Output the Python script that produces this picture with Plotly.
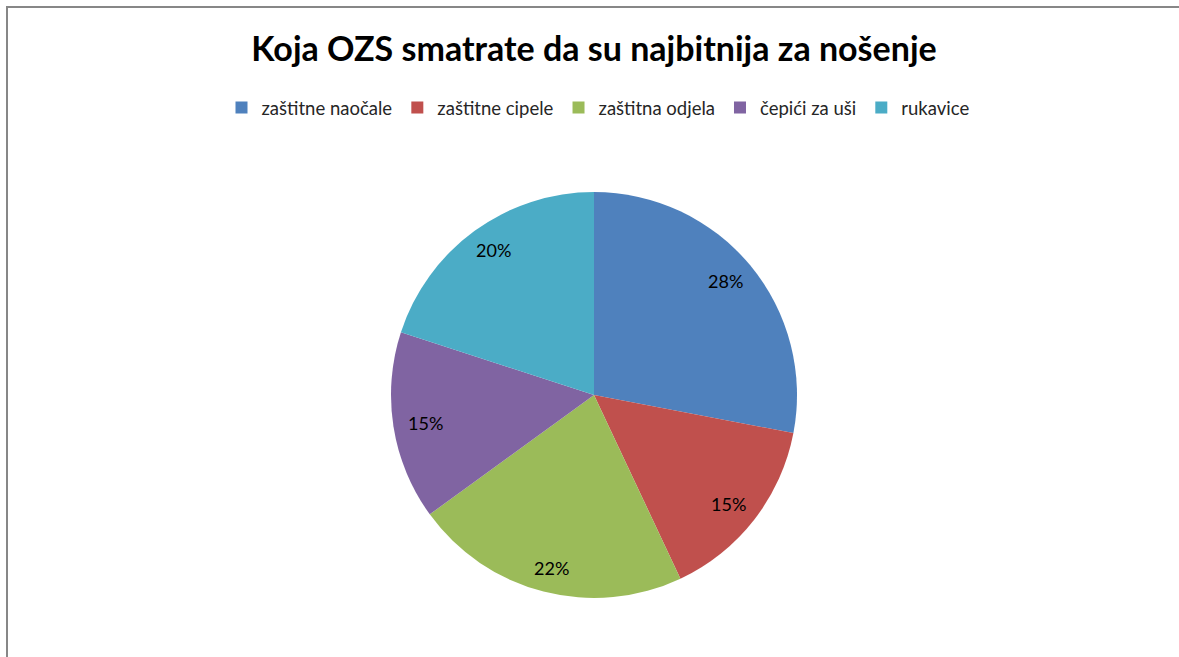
import math
import plotly.graph_objects as go

categories = ["zaštitne naočale", "zaštitne cipele", "zaštitna odjela", "čepići za uši", "rukavice"]
values = [28, 15, 22, 15, 20]
colors = ["#4F81BD", "#C0504D", "#9BBB59", "#8064A2", "#4BACC6"]
title_text = "Koja OZS smatrate da su najbitnija za nošenje"

W, H = 1179, 657
cx, cy, r = 594, 395, 203
label_kx, label_ky = 0.84, 0.88
FONT = "Lato, Open Sans, sans-serif"

fig = go.Figure(go.Pie(
    labels=categories,
    values=values,
    sort=False,
    direction="clockwise",
    rotation=0,
    marker=dict(colors=colors, line=dict(width=0)),
    textinfo="none",
    domain=dict(x=[(cx - r) / W, (cx + r) / W], y=[(H - cy - r) / H, (H - cy + r) / H]),
    hoverinfo="label+percent",
))

# percentage labels placed along each slice's mid-angle (derived from the values)
total = sum(values)
annotations = []
cum = 0
for v in values:
    theta = 2 * math.pi * (cum + v / 2) / total
    cum += v
    px = cx + label_kx * r * math.sin(theta)
    py = cy - label_ky * r * math.cos(theta)
    annotations.append(dict(
        x=px / W, y=1 - py / H, xref="paper", yref="paper",
        text=f"{round(100 * v / total)}%", showarrow=False,
        xanchor="center", yanchor="middle",
        font=dict(family=FONT, size=18, color="#000000"),
    ))

fig.update_layout(
    width=W, height=H,
    margin=dict(l=0, r=0, t=0, b=0),
    paper_bgcolor="white",
    title=dict(text="<b>" + title_text + "</b>", x=594 / W, xanchor="center", y=1 - 49 / H, yanchor="middle",
               font=dict(family=FONT, size=34, color="#000000")),
    legend=dict(orientation="h", x=598 / W, xanchor="center", y=1 - 108 / H, yanchor="middle",
                font=dict(family=FONT, size=18.5, color="#262626"),
                itemwidth=30, tracegroupgap=0),
    annotations=annotations,
    shapes=[dict(type="rect", xref="paper", yref="paper",
                 x0=7 / W, x1=1.02, y0=-0.02, y1=1 - 7 / H,
                 line=dict(color="#878787", width=2), fillcolor="rgba(0,0,0,0)")],
)

fig.write_html("out.html",
               config={"displayModeBar": False},
               post_script="document.documentElement.style.overflow='hidden';"
                           "document.body.style.margin='0';document.body.style.overflow='hidden';")
